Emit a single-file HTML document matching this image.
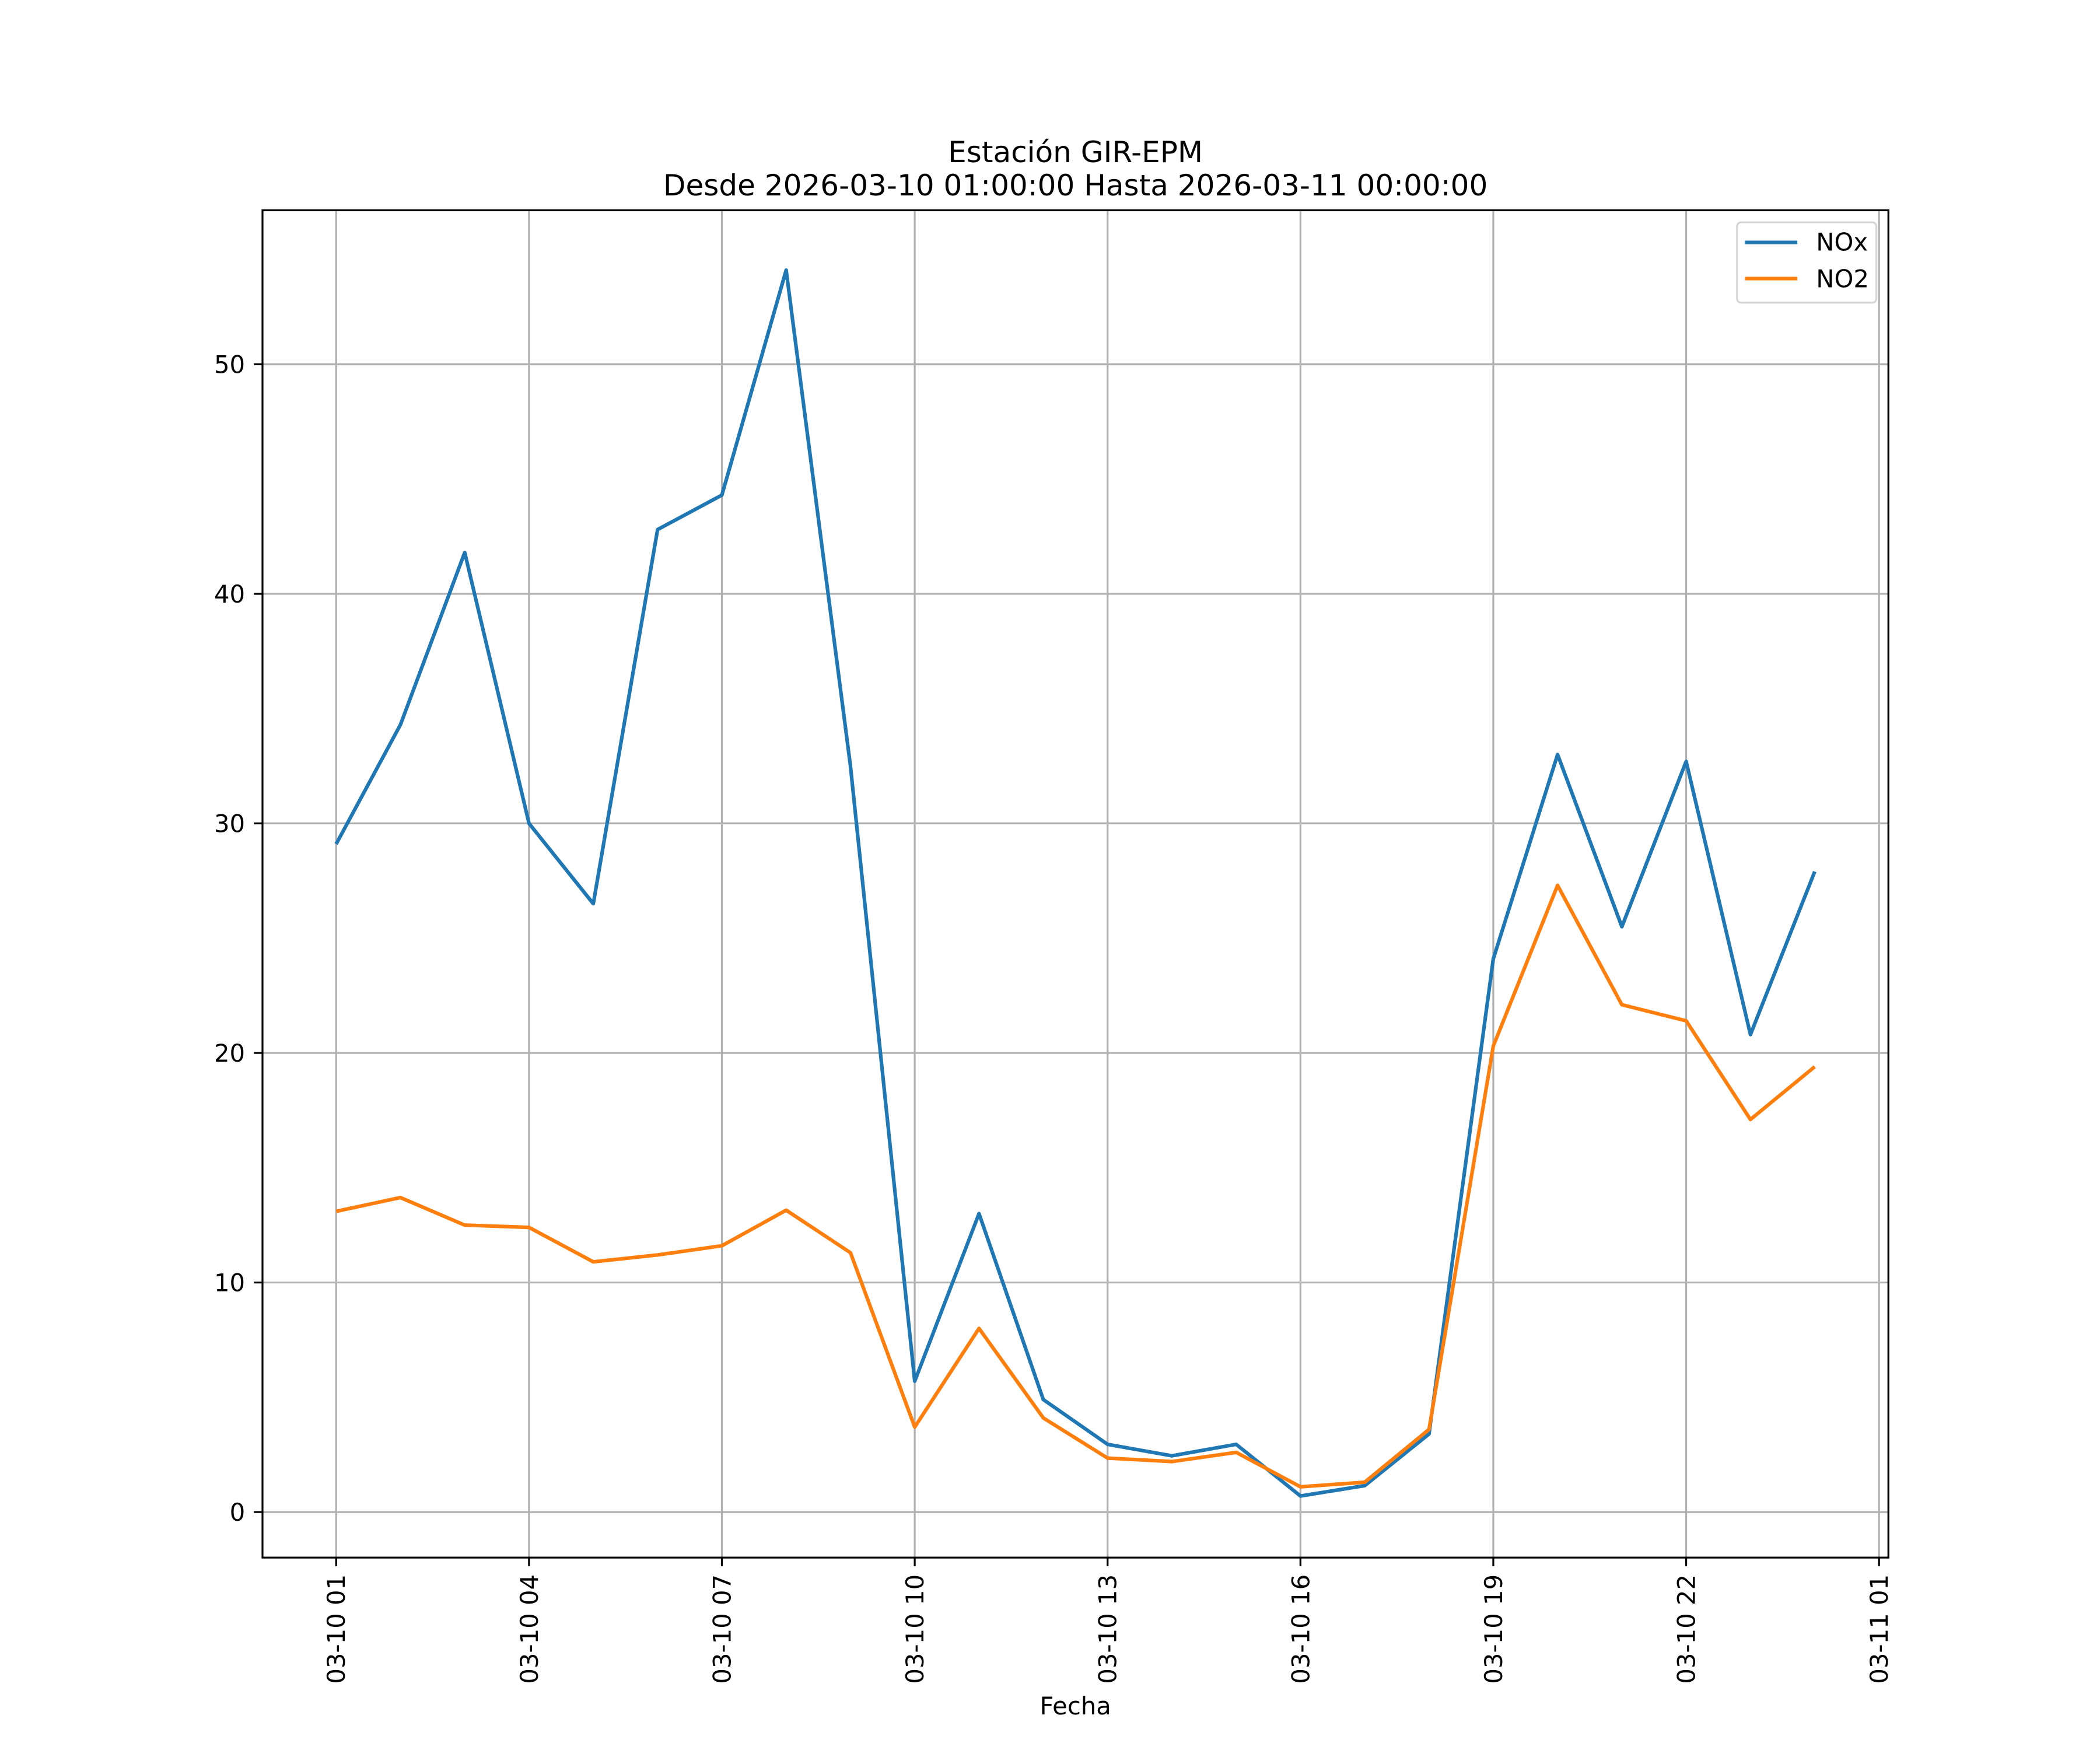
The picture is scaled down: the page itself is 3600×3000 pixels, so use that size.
<!DOCTYPE html>
<html><head><meta charset="utf-8"><style>html,body{margin:0;padding:0;background:#fff}svg{display:block}</style></head>
<body>
<svg id="chart" width="3600" height="3000" viewBox="0 0 1568 1306.67" xmlns="http://www.w3.org/2000/svg" font-family="'DejaVu Sans','Liberation Sans',sans-serif">
<rect width="1568" height="1306.67" fill="#fff"/>
<g id="grid"></g>
<g id="series"></g>
<rect x="196" y="157" width="1214" height="1006" fill="none" stroke="#000" stroke-width="1.4"/>
<g id="ticks"></g>
<text x="803" y="121" font-size="21.8" text-anchor="middle">Estación GIR-EPM</text>
<text x="803" y="146" font-size="21.8" text-anchor="middle">Desde 2026-03-10 01:00:00 Hasta 2026-03-11 00:00:00</text>
<text x="803" y="1280" font-size="18.2" text-anchor="middle">Fecha</text>
<g>
<rect x="1297" y="166" width="104" height="60" rx="3" fill="#fff" fill-opacity="0.8" stroke="#d6d6d6" stroke-width="1.4"/>
<line x1="1303" y1="181" x2="1342" y2="181" stroke="#1f77b4" stroke-width="2.7"/>
<text x="1356" y="187" font-size="18.2">NOx</text>
<line x1="1303" y1="208" x2="1342" y2="208" stroke="#ff7f0e" stroke-width="2.7"/>
<text x="1356" y="214.5" font-size="18.2">NO2</text>
</g>
</svg>
<script>
const hours = [1,2,3,4,5,6,7,8,9,10,11,12,13,14,15,16,17,18,19,20,21,22,23,24];
const noxValues = [29.1,34.3,41.8,30.0,26.5,42.8,44.3,54.1,32.5,5.7,13.0,4.9,2.95,2.45,2.95,0.7,1.15,3.4,24.1,33.0,25.5,32.7,20.8,27.9];
const no2Values = [13.1,13.7,12.5,12.4,10.9,11.2,11.6,13.15,11.3,3.7,8.0,4.1,2.35,2.2,2.6,1.1,1.3,3.6,20.3,27.3,22.1,21.4,17.1,19.4];
const yTicks = [0,10,20,30,40,50];
const xTickHours = [1,4,7,10,13,16,19,22,25];
const xTickLabels = ["03-10 01","03-10 04","03-10 07","03-10 10","03-10 13","03-10 16","03-10 19","03-10 22","03-11 01"];
const NS="http://www.w3.org/2000/svg";
const L=196,R=1410,T=157,B=1163;
function xs(h){return 251+(h-1)*48;}
function ys(v){return 1129-v*17.14;}
function mk(tag,attrs,parent){const e=document.createElementNS(NS,tag);for(const k in attrs)e.setAttribute(k,attrs[k]);parent.appendChild(e);return e;}
const grid=document.getElementById('grid'),ticks=document.getElementById('ticks'),series=document.getElementById('series');
yTicks.forEach(v=>{
  const y=ys(v);
  const g=mk('line',{x1:L,x2:R,y1:y,y2:y,stroke:'#b0b0b0','stroke-width':1.4},grid);
  
  
  mk('line',{x1:L-6.4,x2:L,y1:y,y2:y,stroke:'#000','stroke-width':1.4},ticks);
  const t=mk('text',{x:L-13,y:y+6.5,'font-size':18.2,'text-anchor':'end'},ticks);
  t.textContent=v;
  
  
});
xTickHours.forEach((h,i)=>{
  const x=xs(h);
  const g=mk('line',{x1:x,x2:x,y1:T,y2:B,stroke:'#b0b0b0','stroke-width':1.4},grid);
  
  
  mk('line',{x1:x,x2:x,y1:B,y2:B+6.4,stroke:'#000','stroke-width':1.4},ticks);
  const t=mk('text',{x:0,y:0,'font-size':18.2,'text-anchor':'end',transform:`translate(${x+6.5},${B+12.5}) rotate(-90)`},ticks);
  t.textContent=xTickLabels[i];
  
  
});
function line(vals,color,name){
  const p=mk('polyline',{points:vals.map((v,i)=>xs(hours[i])+','+ys(v)).join(' '),fill:'none',stroke:color,'stroke-width':2.7,'stroke-linejoin':'round'},series);
  
  
}
line(noxValues,'#1f77b4','nox-line');
line(no2Values,'#ff7f0e','no2-line');
</script>
</body></html>
